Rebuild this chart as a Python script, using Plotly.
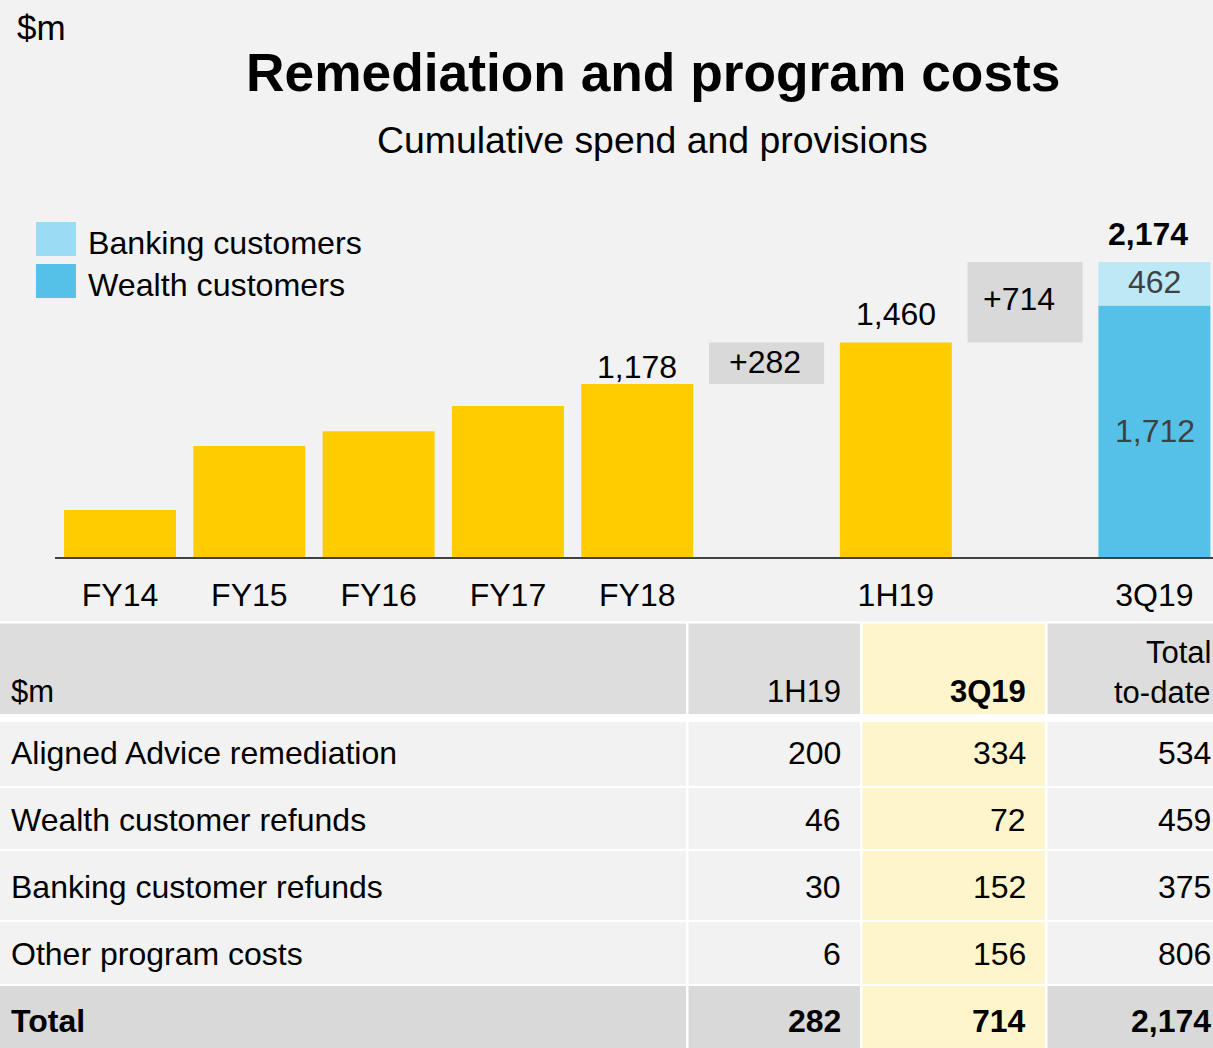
import plotly.graph_objects as go

# ---------------- data ----------------
periods = ["FY14", "FY15", "FY16", "FY17", "FY18", "1H19"]
cumulative = [320, 756, 857, 1028, 1178, 1460]
labelled_periods = ["FY18", "1H19"]
q3_label = "3Q19"
q3_wealth = 1712
q3_banking = 462
q3_total = 2174
increments = [282, 714]

table_header = ["$m", "1H19", "3Q19", "Total<br>to-date"]
table_labels = ["Aligned Advice remediation", "Wealth customer refunds",
                "Banking customer refunds", "Other program costs", "Total"]
col_1h19 = [200, 46, 30, 6, 282]
col_3q19 = [334, 72, 152, 156, 714]
col_total = [534, 459, 375, 806, 2174]

# ---------------- styling ----------------
W, H = 1213, 1048
BG = "#f2f2f2"
YELLOW = "#ffcc00"
WEALTH = "#55c1e8"
BANKING_BAR = "#bde8f6"
BANKING_LEG = "#9bdbf3"
GREY_BOX = "#d9d9d9"
FONT = "Liberation Sans, Arial, sans-serif"

def px(x):
    return x / W

def py(y):
    return 1 - y / H

slot = {p: i for i, p in enumerate(periods[:5])}
slot["inc1"] = 5
slot["1H19"] = 6
slot["inc2"] = 7
slot[q3_label] = 8

YMAX = 2009
fig = go.Figure()

fig.add_trace(go.Bar(
    x=[slot[p] for p in periods], y=cumulative,
    marker=dict(color=YELLOW, line=dict(width=0)), width=0.866,
    hoverinfo="skip", showlegend=False))

inc_bases = [cumulative[periods.index("FY18")], cumulative[periods.index("1H19")]]
fig.add_trace(go.Bar(
    x=[slot["inc1"], slot["inc2"]], y=increments, base=inc_bases,
    marker=dict(color=GREY_BOX, line=dict(width=0)), width=0.89,
    hoverinfo="skip", showlegend=False))

fig.add_trace(go.Bar(
    x=[slot[q3_label]], y=[q3_wealth], base=[0],
    marker=dict(color=WEALTH, line=dict(width=0)), width=0.866,
    hoverinfo="skip", showlegend=False))
fig.add_trace(go.Bar(
    x=[slot[q3_label]], y=[q3_banking], base=[q3_wealth],
    marker=dict(color=BANKING_BAR, line=dict(width=0)), width=0.866,
    hoverinfo="skip", showlegend=False))

annotations = []
label_shift = {"FY18": -3, "1H19": 9}
for p in labelled_periods:
    v = cumulative[periods.index(p)]
    annotations.append(dict(x=slot[p], y=v, xref="x", yref="y", text=f"{v:,}",
                            showarrow=False, yanchor="bottom", yshift=label_shift[p],
                            font=dict(size=32, color="#000000", family=FONT)))
inc_shift = [(-2, 1), (-6, 3)]
for key, base, inc, (xs, ys) in zip(["inc1", "inc2"], inc_bases, increments, inc_shift):
    top = min(base + inc, YMAX)
    annotations.append(dict(x=slot[key], y=(base + top) / 2, xref="x", yref="y",
                            text=f"+{inc:,}", showarrow=False, yanchor="middle",
                            xshift=xs, yshift=ys,
                            font=dict(size=32, color="#000000", family=FONT)))
annotations.append(dict(x=slot[q3_label], y=q3_wealth / 2, xref="x", yref="y",
                        text=f"{q3_wealth:,}", showarrow=False, yanchor="middle",
                        xshift=1,
                        font=dict(size=32, color="#404040", family=FONT)))
annotations.append(dict(x=slot[q3_label], y=(q3_wealth + min(q3_total, YMAX)) / 2,
                        xref="x", yref="y", text=f"{q3_banking:,}", showarrow=False,
                        yanchor="middle", yshift=2,
                        font=dict(size=32, color="#404040", family=FONT)))
annotations.append(dict(x=slot[q3_label], y=YMAX, xref="x", yref="y",
                        text=f"<b>{q3_total:,}</b>", showarrow=False, yanchor="bottom",
                        xshift=-6, yshift=8,
                        font=dict(size=32, color="#000000", family=FONT)))

annotations.append(dict(x=px(15), y=py(28), xref="paper", yref="paper", text="$m",
                        showarrow=False, xanchor="left", yanchor="middle",
                        font=dict(size=35, color="#000000", family=FONT)))
annotations.append(dict(x=px(653), y=py(72), xref="paper", yref="paper",
                        text="<b>Remediation and program costs</b>", showarrow=False,
                        xanchor="center", yanchor="middle",
                        font=dict(size=53.3, color="#000000", family=FONT)))
annotations.append(dict(x=px(652.5), y=py(140), xref="paper", yref="paper",
                        text="Cumulative spend and provisions", showarrow=False,
                        xanchor="center", yanchor="middle",
                        font=dict(size=37.4, color="#000000", family=FONT)))

shapes = []
legend_items = [("Banking customers", BANKING_LEG, 222, 256),
                ("Wealth customers", WEALTH, 264, 298)]
for name, col, y0, y1 in legend_items:
    shapes.append(dict(type="rect", xref="paper", yref="paper",
                       x0=px(36), x1=px(76), y0=py(y1), y1=py(y0),
                       fillcolor=col, line=dict(width=0)))
    annotations.append(dict(x=px(86), y=py((y0 + y1) / 2 + 4), xref="paper", yref="paper",
                            text=name, showarrow=False, xanchor="left",
                            yanchor="middle",
                            font=dict(size=32.2, color="#000000", family=FONT)))

# ---------------- table ----------------
col_edges = [(0, 686), (688.5, 860), (862.5, 1045), (1047.5, 1240)]
header_span = (623.5, 714)
row_spans = [(722, 786), (788, 849), (851, 920), (922, 984), (986, 1048)]
text_y0, text_pitch = 753, 67
n_rows = len(table_labels)

shapes.append(dict(type="rect", xref="paper", yref="paper", x0=0, x1=1,
                   y0=0, y1=py(621.5), fillcolor="#ffffff", line=dict(width=0),
                   layer="below"))

def cell_fill(r, c):
    if c == 2:
        return "#fff5cc"
    if r == "header":
        return "#dddddd"
    if r == n_rows - 1:
        return "#d9d9d9"
    return "#f2f2f2"

for c, (x0, x1) in enumerate(col_edges):
    shapes.append(dict(type="rect", xref="paper", yref="paper",
                       x0=px(x0), x1=px(x1), y0=py(header_span[1]), y1=py(header_span[0]),
                       fillcolor=cell_fill("header", c), line=dict(width=0), layer="below"))
    for r, (y0, y1) in enumerate(row_spans):
        shapes.append(dict(type="rect", xref="paper", yref="paper",
                           x0=px(x0), x1=px(x1), y0=py(y1), y1=py(y0),
                           fillcolor=cell_fill(r, c), line=dict(width=0), layer="below"))

right_x = [None, 843, 1028, 1213]
left_x = 9
annotations.append(dict(x=px(left_x), y=py(691), xref="paper", yref="paper",
                        text=table_header[0], showarrow=False, xanchor="left",
                        yanchor="middle", font=dict(size=31, color="#000", family=FONT)))
annotations.append(dict(x=px(right_x[1]), y=py(691), xref="paper", yref="paper",
                        text=table_header[1], showarrow=False, xanchor="right",
                        yanchor="middle", font=dict(size=31, color="#000", family=FONT)))
annotations.append(dict(x=px(right_x[2]), y=py(691), xref="paper", yref="paper",
                        text=f"<b>{table_header[2]}</b>", showarrow=False, xanchor="right",
                        yanchor="middle", font=dict(size=31, color="#000", family=FONT)))
for i, part in enumerate(table_header[3].split("<br>")):
    annotations.append(dict(x=px(right_x[3]), y=py(652 + 40 * i), xref="paper",
                            yref="paper", text=part, showarrow=False, xanchor="right",
                            yanchor="middle",
                            font=dict(size=31, color="#000", family=FONT)))

for r in range(n_rows):
    yc = text_y0 + text_pitch * r
    bold = r == n_rows - 1
    def fmt(s):
        return f"<b>{s}</b>" if bold else s
    annotations.append(dict(x=px(left_x), y=py(yc), xref="paper", yref="paper",
                            text=fmt(table_labels[r]), showarrow=False, xanchor="left",
                            yanchor="middle", font=dict(size=32, color="#000", family=FONT)))
    for c, vals in zip([1, 2, 3], [col_1h19, col_3q19, col_total]):
        annotations.append(dict(x=px(right_x[c]), y=py(yc), xref="paper", yref="paper",
                                text=fmt(f"{vals[r]:,}"), showarrow=False, xanchor="right",
                                yanchor="middle",
                                font=dict(size=32, color="#000", family=FONT)))

tick_periods = periods + [q3_label]
fig.update_layout(
    width=W, height=H,
    margin=dict(l=0, r=0, t=0, b=0),
    paper_bgcolor=BG, plot_bgcolor=BG,
    barmode="overlay",
    showlegend=False,
    font=dict(family=FONT, color="#000"),
    xaxis=dict(domain=[px(55), 1], range=[-0.503, 8.453],
               tickvals=[slot[p] for p in tick_periods], ticktext=tick_periods,
               tickfont=dict(size=32, color="#000", family=FONT),
               showline=True, linecolor="#404040", linewidth=2,
               showgrid=False, zeroline=False, ticks="", ticklabelstandoff=9,
               fixedrange=True),
    yaxis=dict(domain=[py(557), py(262)], range=[0, YMAX], visible=False,
               showgrid=False, zeroline=False, fixedrange=True),
    annotations=annotations,
    shapes=shapes,
)

fig.write_html("out.html", config={"displayModeBar": False},
               post_script="document.body.style.margin='0';document.body.style.padding='0';")
